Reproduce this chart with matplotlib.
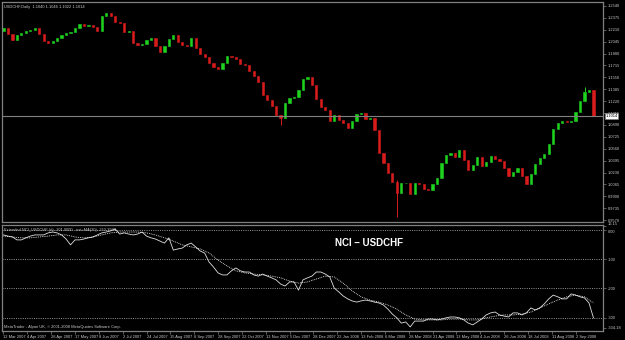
import matplotlib
matplotlib.use('Agg')
import matplotlib.pyplot as plt
import numpy as np

# daily USDCHF, one candle per 3 trading days (closes)
closes = [
  1.2235, 1.2152, 1.2068, 1.2138, 1.2166, 1.2193, 1.2207, 1.2235, 1.2152, 1.2055,
  1.2027, 1.2055, 1.2096, 1.2138, 1.2166, 1.2179, 1.2235, 1.2290, 1.2263, 1.2276,
  1.2249, 1.2193, 1.2401, 1.2443, 1.2401, 1.2318, 1.2304, 1.2179, 1.2193, 1.2027,
  1.1999, 1.2013, 1.2068, 1.2096, 1.1985, 1.1902, 1.1985, 1.2082, 1.2138, 1.2041,
  1.1999, 1.1985, 1.2096, 1.1957, 1.1874, 1.1833, 1.1749, 1.1694, 1.1666, 1.1749,
  1.1846, 1.1833, 1.1805, 1.1736, 1.1722, 1.1638, 1.1569, 1.1486, 1.1306, 1.1236,
  1.1153, 1.1028, 1.0987, 1.1195, 1.1264, 1.1278, 1.1375, 1.1527, 1.1555, 1.1444,
  1.1250, 1.1139, 1.1098, 1.0945, 1.1028, 1.0959, 1.0917, 1.0848, 1.0945, 1.1042,
  1.1056, 1.0973, 1.0987, 1.0820, 1.0501, 1.0362, 1.0224, 1.0099, 0.9946, 1.0085,
  1.0085, 0.9932, 1.0085, 1.0071, 1.0002, 0.9988, 1.0071, 1.0154, 1.0362, 1.0473,
  1.0501, 1.0446, 1.0543, 1.0404, 1.0265, 1.0335, 1.0446, 1.0321, 1.0376, 1.0459,
  1.0418, 1.0390, 1.0293, 1.0182, 1.0238, 1.0293, 1.0182, 1.0071, 1.0210, 1.0349,
  1.0432, 1.0487, 1.0626, 1.0834, 1.0917, 1.0945, 1.0931, 1.0945, 1.1070, 1.1222,
  1.1347, 1.1375, 1.1014]
first_open = 1.2190
# the few long wicks that stand out
wicks = {62: (1.0890, 1.1028), 88: (0.9613, 1.0120), 130: (1.1347, 1.1420)}

nci = [
  -17, -21, -24, -34, -34, -27, -21, -17, -17, -17,
  -10, -7, -10, -17, -31, -51, -34, -34, -31, -27,
  -24, -17, -10, -7, -3, 3, -14, -10, -14, -17,
  -14, -7, -21, -27, -31, -38, -45, -27, -69, -65,
  -62, -51, -45, -58, -72, -79, -110, -127, -147, -154,
  -154, -140, -130, -140, -144, -144, -154, -158, -151, -158,
  -164, -171, -185, -192, -178, -178, -206, -171, -164, -158,
  -144, -144, -151, -161, -199, -212, -226, -236, -243, -247,
  -243, -240, -243, -247, -250, -257, -271, -288, -301, -319,
  -315, -332, -312, -312, -312, -305, -305, -308, -305, -301,
  -298, -298, -301, -308, -319, -325, -315, -305, -291, -284,
  -281, -291, -295, -298, -284, -284, -291, -284, -267, -274,
  -267, -253, -236, -223, -229, -236, -236, -219, -223, -229,
  -233, -250, -301]
# MA(20) of the NCI, read every second candle
nci_ma = [
  -21, -24, -27, -27, -24, -21, -17, -17, -24, -27,
  -24, -17, -10, -7, -7, -7, -10, -17, -27, -38,
  -51, -58, -65, -79, -103, -123, -140, -147, -151, -154,
  -158, -164, -175, -182, -178, -168, -158, -161, -182, -209,
  -229, -240, -247, -257, -271, -291, -305, -308, -308, -308,
  -305, -305, -308, -308, -301, -295, -291, -291, -288, -281,
  -267, -253, -240, -229, -223, -229, -250]

date_labels = ['12 Mar 2007', '4 Apr 2007', '26 Apr 2007', '17 May 2007', '8 Jun 2007',
               '2 Jul 2007', '24 Jul 2007', '15 Aug 2007', '6 Sep 2007', '28 Sep 2007',
               '22 Oct 2007', '13 Nov 2007', '5 Dec 2007', '28 Dec 2007', '22 Jan 2008',
               '13 Feb 2008', '6 Mar 2008', '28 Mar 2008', '21 Apr 2008', '13 May 2008',
               '4 Jun 2008', '26 Jun 2008', '18 Jul 2008', '11 Aug 2008', '2 Sep 2008']
price_ticks = [1.2540, 1.2375, 1.2210, 1.2045, 1.1880, 1.1715, 1.1550, 1.1385, 1.1220,
               1.1055, 1.0890, 1.0725, 1.0560, 1.0395, 1.0230, 1.0065, 0.9900, 0.9735, 0.9570]
nci_levels = [0, -100, -200, -300]

plt.rcParams['font.family'] = ['Liberation Sans', 'DejaVu Sans']

GRID = '#808080'
TXT = '#c8c8c8'
BULL = '#1fd21f'
BEAR = '#d81c1c'
FS = 2.9

W, H = 625, 340
fig = plt.figure(figsize=(W / 100, H / 100), dpi=100, facecolor='black')
ax = fig.add_axes([2 / W, 1 - 222 / H, 601 / W, 220 / H], facecolor='black')
ax2 = fig.add_axes([2 / W, 1 - 331 / H, 601 / W, 106 / H], facecolor='black')

closes = np.array(closes)
opens = np.concatenate([[first_open], closes[:-1]])
days = np.arange(len(closes)) * 3
up = closes >= opens
lo = np.minimum(opens, closes)
hi = np.maximum(opens, closes)
colors = np.where(up, BULL, BEAR)

for i, (l, h) in wicks.items():
  ax.vlines(days[i], l, h, color=colors[i], lw=0.7)
ax.bar(days, hi - lo, bottom=lo, width=1.5, color=colors, edgecolor=colors, linewidth=0.4)

last = closes[-1]
ax.axhline(last, color=GRID, lw=0.8)

ax.set_xlim(-1, 402.4)
ax.set_ylim(0.9544, 1.2595)
ax.yaxis.tick_right()
ax.set_yticks(price_ticks)
ax.set_yticklabels(['%.4f' % t for t in price_ticks])
ax.tick_params(axis='y', colors=GRID, labelcolor=TXT, labelsize=FS, length=2, width=0.5, pad=1.5)
ax.set_xticks([])
for s in ax.spines.values():
  s.set_color(GRID)
  s.set_linewidth(0.9)

ax.text(1.004, last, '%.4f' % last, transform=ax.get_yaxis_transform(), fontsize=FS,
        color='black', va='center', ha='left',
        bbox=dict(boxstyle='square,pad=0.15', fc='white', ec=GRID, lw=0.4))
ax.text(0.004, 0.985, 'USDCHF,Daily  1.1040 1.1046 1.1022 1.1014', transform=ax.transAxes,
        fontsize=FS, color=TXT, va='top', ha='left')

# NCI panel
for lv in nci_levels:
  ax2.axhline(lv, color='#a8a8a8', lw=0.6, ls=(0, (1.2, 1.5)))
ax2.plot(days, nci, color='#e0e0e0', lw=0.6)
ax2.plot(days[::2], nci_ma, color='white', lw=0.6, ls=(0, (1.0, 1.2)))

ax2.set_xlim(-1, 402.4)
ax2.set_ylim(-346, 17)
ax2.yaxis.tick_right()
ax2.set_yticks([15, 0, -100, -200, -300, -334.18])
ax2.set_yticklabels(['16.15', '0.00', '-100', '-200', '-300', '-334.18'])
ax2.tick_params(axis='y', colors=GRID, labelcolor=TXT, labelsize=FS, length=2, width=0.5, pad=1.5)
ax2.get_yticklabels()[0].set_va('bottom')
ax2.get_yticklabels()[1].set_va('top')
tick_days = np.arange(len(date_labels)) * 16
ax2.set_xticks(tick_days)
ax2.set_xticklabels(date_labels, ha='left')
ax2.tick_params(axis='x', colors=GRID, labelcolor=TXT, labelsize=FS, length=2, width=0.5, pad=1)
for s in ax2.spines.values():
  s.set_color(GRID)
  s.set_linewidth(0.9)

ax2.text(0.004, 0.975, 'Extended NCI_USDCHF (d) -301.0000   ext+MA(20) -253.3990',
         transform=ax2.transAxes, fontsize=FS, color=TXT, va='top', ha='left')
ax2.text(0.004, 0.02, 'MetaTrader - Alpari UK, \u00a9 2001-2008 MetaQuotes Software Corp.',
         transform=ax2.transAxes, fontsize=FS, color=TXT, va='bottom', ha='left')
ax2.text(0.61, 0.88, 'NCI \u2013 USDCHF', transform=ax2.transAxes, fontsize=7,
         fontweight='bold', color='white', va='top', ha='center')

fig.savefig('out.png', dpi=100, facecolor='black')
